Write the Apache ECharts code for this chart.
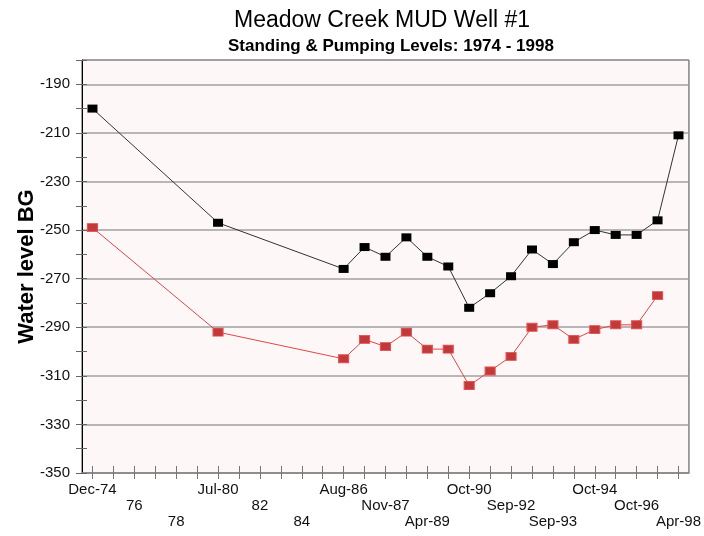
<!DOCTYPE html>
<html>
<head>
<meta charset="utf-8">
<script src="https://cdn.jsdelivr.net/npm/echarts@6/dist/echarts.min.js"></script>
<style>html,body{margin:0;padding:0;background:#fff}#c{width:704px;height:536px}</style>
</head>
<body>
<div id="c"></div>
<script>
// Tick labels (every other slot on the category axis; data slots are half-steps)
const tickLabels = ['Dec-74','76','78','Jul-80','82','84','Aug-86','Nov-87','Apr-89','Oct-90','Sep-92','Sep-93','Oct-94','Oct-96','Apr-98'];
// Standing level (black) per half-step slot, null = no reading
const standing = [-200, null, null, null, null, null, -247, null, null, null, null, null,
  -266, -257, -261, -253, -261, -265, -282, -276, -269, -258, -264, -255, -250, -252, -252, -246, -211];
// Pumping level (red)
const pumping = [-249, null, null, null, null, null, -292, null, null, null, null, null,
  -303, -295, -298, -292, -299, -299, -314, -308, -302, -290, -289, -295, -291, -289, -289, -277, null];
const yTicks = [-350, -330, -310, -290, -270, -250, -230, -210, -190];

const categories = [];
for (let i = 0; i < standing.length; i++) categories.push(i % 2 === 0 ? tickLabels[i / 2] : '');

const FONT = 'Liberation Sans, Arial, sans-serif';
const chart = echarts.init(document.getElementById('c'));
chart.setOption({
  animation: false,
  title: [
    { text: 'Meadow Creek MUD Well #1', left: 234, top: 9, padding: 0,
      textStyle: { fontFamily: FONT, fontSize: 23, fontWeight: 'normal', color: '#000' } },
    { text: 'Standing & Pumping Levels: 1974 - 1998', left: 228, top: 38, padding: 0,
      textStyle: { fontFamily: FONT, fontSize: 17, fontWeight: 'bold', color: '#000' } }
  ],
  grid: { left: 82, right: 15, top: 60, bottom: 63, show: true, backgroundColor: '#fdf7f7',
    borderColor: '#444', borderWidth: 1 },
  xAxis: [
    { type: 'category', data: categories, boundaryGap: true, position: 'bottom',
      axisLine: { lineStyle: { color: '#888', width: 1.5 } },
      axisTick: { show: true, alignWithLabel: true, interval: 0, length: 6, lineStyle: { color: '#777' } },
      axisLabel: { interval: 0, margin: 9, fontFamily: FONT, fontSize: 15, color: '#111', lineHeight: 16,
        formatter: function (v, idx) { if (idx % 2) return ''; const k = idx / 2; return '\n'.repeat(k % 3) + v; } },
      splitLine: { show: false } },
    { type: 'category', data: categories, boundaryGap: true, position: 'bottom', offset: 0,
      axisLine: { show: false },
      axisTick: { show: true, inside: true, alignWithLabel: true, interval: 0, length: 7, lineStyle: { color: '#777' } },
      axisLabel: { show: false }, splitLine: { show: false } }
  ],
  yAxis: [
    { type: 'value', min: -350, max: -180, interval: 10, position: 'left', offset: 0,
      name: 'Water level BG', nameLocation: 'middle', nameGap: 44, nameMoveOverlap: false,
      nameTextStyle: { fontFamily: FONT, fontSize: 22, fontWeight: 'bold', color: '#000' },
      axisLine: { show: true, lineStyle: { color: '#000', width: 1 } },
      axisTick: { show: true, length: 6, lineStyle: { color: '#666' } },
      axisLabel: { margin: 12, fontFamily: FONT, fontSize: 15, color: '#111',
        formatter: function (v) { return yTicks.indexOf(v) >= 0 ? String(v) : ''; } },
      splitLine: { show: false } },
    { type: 'value', min: -350, max: -180, interval: 20, position: 'left', offset: 0,
      axisLine: { show: false }, axisTick: { show: false }, axisLabel: { show: false },
      splitLine: { show: true, lineStyle: { color: '#a0a0a0', width: 1.5 } } },
    { type: 'value', min: -350, max: -180, interval: 10, position: 'left', offset: 0,
      axisLine: { show: false }, axisLabel: { show: false }, splitLine: { show: false },
      axisTick: { show: true, inside: true, length: 5, lineStyle: { color: '#666' } } }
  ],
  series: [
    { name: 'Standing', type: 'line', data: standing, connectNulls: true, xAxisIndex: 0, yAxisIndex: 0,
      symbol: 'rect', symbolSize: [10, 8], showAllSymbol: true,
      lineStyle: { color: '#333', width: 1 }, itemStyle: { color: '#000' } },
    { name: 'Pumping', type: 'line', data: pumping, connectNulls: true, xAxisIndex: 0, yAxisIndex: 0,
      symbol: 'rect', symbolSize: [10, 8], showAllSymbol: true,
      lineStyle: { color: '#e04848', width: 1 }, itemStyle: { color: '#c0393b', borderColor: '#e85050', borderWidth: 1 } }
  ]
});
</script>
</body>
</html>
